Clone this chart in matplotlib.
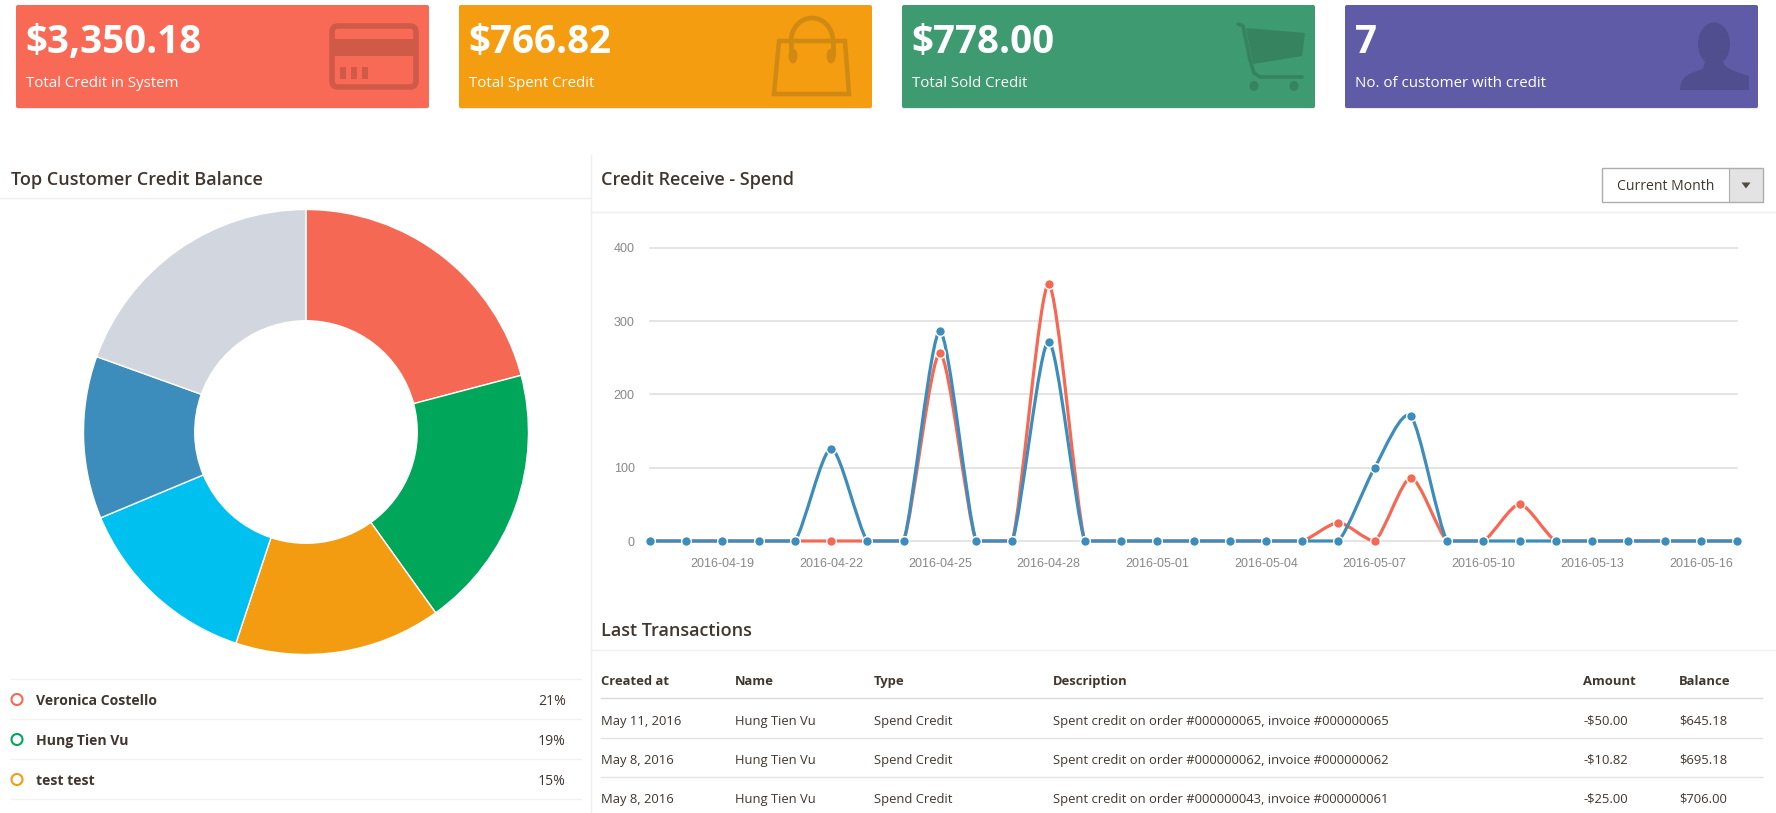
#!/usr/bin/env python3
"""Credit dashboard: summary cards, customer donut, receive/spend line chart, transactions"""

import matplotlib
matplotlib.use('Agg')
import matplotlib.pyplot as plt
from matplotlib.patches import FancyBboxPatch, Rectangle, Circle, Ellipse, PathPatch, Polygon, Arc
from matplotlib.path import Path

# Cards
card_values = ['$3,350.18', '$766.82', '$778.00', '7']
card_labels = ['Total Credit in System', 'Total Spent Credit', 'Total Sold Credit',
               'No. of customer with credit']
card_colors = ['#F96A56', '#F49D10', '#3E9A70', '#5F5BA6']
icon_colors = ['#D05A48', '#D08A14', '#36835F', '#514E8F']

# Donut
share_values = [20.9, 19.2, 15.0, 13.6, 11.8, 19.5]
share_colors = ['#F56954', '#00A65A', '#F39C12', '#00C0EF', '#3C8DBC', '#D2D6DE']
legend_names = ['Veronica Costello', 'Hung Tien Vu', 'test test']
legend_pcts = ['21%', '19%', '15%']

# Line chart, one value per day from 2016-04-17 to 2016-05-17
days = ['2016-04-17', '2016-04-18', '2016-04-19', '2016-04-20', '2016-04-21', '2016-04-22',
        '2016-04-23', '2016-04-24', '2016-04-25', '2016-04-26', '2016-04-27', '2016-04-28',
        '2016-04-29', '2016-04-30', '2016-05-01', '2016-05-02', '2016-05-03', '2016-05-04',
        '2016-05-05', '2016-05-06', '2016-05-07', '2016-05-08', '2016-05-09', '2016-05-10',
        '2016-05-11', '2016-05-12', '2016-05-13', '2016-05-14', '2016-05-15', '2016-05-16',
        '2016-05-17']
red_values = [0, 0, 0, 0, 0, 0, 0, 0, 256, 0, 0, 350, 0, 0, 0, 0, 0, 0,
              0, 25, 0, 86, 0, 0, 50, 0, 0, 0, 0, 0, 0]
blue_values = [0, 0, 0, 0, 0, 126, 0, 0, 286, 0, 0, 272, 0, 0, 0, 0, 0, 0,
               0, 0, 100, 170, 0, 0, 0, 0, 0, 0, 0, 0, 0]
y_ticks = [0, 100, 200, 300, 400]

# Table
table_headers = ['Created at', 'Name', 'Type', 'Description', 'Amount', 'Balance']
table_rows = [
    ['May 11, 2016', 'Hung Tien Vu', 'Spend Credit',
     'Spent credit on order #000000065, invoice #000000065', '-$50.00', '$645.18'],
    ['May 8, 2016', 'Hung Tien Vu', 'Spend Credit',
     'Spent credit on order #000000062, invoice #000000062', '-$10.82', '$695.18'],
    ['May 8, 2016', 'Hung Tien Vu', 'Spend Credit',
     'Spent credit on order #000000043, invoice #000000061', '-$25.00', '$706.00'],
]

W, H = 1776, 813
TEXT = '#41362F'
plt.rcParams['font.family'] = ['Open Sans', 'DejaVu Sans']


def px(size):
    """Font size in css pixels -> points at dpi 100"""
    return size * 72 / 100


def smooth_path(xs, ys):
    """Same kind of curve as morris.js: gradient from neighbours, control points at dx/4"""
    n = len(xs)
    grads = []
    for i in range(n):
        a = max(i - 1, 0)
        b = min(i + 1, n - 1)
        grads.append((ys[b] - ys[a]) / (xs[b] - xs[a]))
    verts = [(xs[0], ys[0])]
    codes = [Path.MOVETO]
    for i in range(1, n):
        ix = (xs[i] - xs[i - 1]) / 4
        y1 = max(0, ys[i - 1] + ix * grads[i - 1])
        y2 = max(0, ys[i] - ix * grads[i])
        verts += [(xs[i - 1] + ix, y1), (xs[i] - ix, y2), (xs[i], ys[i])]
        codes += [Path.CURVE4, Path.CURVE4, Path.CURVE4]
    return Path(verts, codes)


def draw_icons(ax):
    # credit card
    c = icon_colors[0]
    ax.add_patch(FancyBboxPatch((332, 26), 84, 61, boxstyle='round,pad=0,rounding_size=6',
                                fc='none', ec=c, lw=4))
    ax.add_patch(Rectangle((331, 39), 87, 17, fc=c, ec='none'))
    for x in (340, 351, 362):
        ax.add_patch(Rectangle((x, 67), 6, 12, fc=c, ec='none'))

    # bag
    c = icon_colors[1]
    ax.add_patch(Polygon([(779, 41), (845, 41), (849, 94), (774, 94)], closed=True,
                         fc='none', ec=c, lw=3.2))
    ax.add_patch(Arc((812, 41), 42, 46, theta1=180, theta2=360, ec=c, lw=3.4))
    ax.plot([791, 791], [41, 54], color=c, lw=3.4)
    ax.plot([833, 833], [41, 54], color=c, lw=3.4)
    ax.add_patch(Ellipse((793, 56), 9, 15, fc=c, ec='none'))
    ax.add_patch(Ellipse((831, 56), 9, 15, fc=c, ec='none'))

    # cart
    c = icon_colors[2]
    ax.add_patch(Polygon([(1246, 28), (1305, 33), (1302, 56), (1253, 64)], closed=True,
                         fc=c, ec='none'))
    ax.plot([1238, 1243, 1250, 1254, 1260, 1302], [24, 26, 60, 73, 77, 77],
            color=c, lw=2.6, solid_capstyle='round')
    ax.add_patch(Ellipse((1254, 86), 9, 10, fc=c, ec='none'))
    ax.add_patch(Ellipse((1294, 86), 9, 10, fc=c, ec='none'))

    # person
    c = icon_colors[3]
    body = Path([(1680, 90), (1680, 76), (1690, 73), (1703, 69), (1705, 62), (1705, 50),
                 (1723, 50), (1723, 62), (1725, 69), (1739, 73), (1749, 76), (1749, 90),
                 (1680, 90)],
                [Path.MOVETO, Path.CURVE4, Path.CURVE4, Path.CURVE4, Path.LINETO, Path.LINETO,
                 Path.LINETO, Path.LINETO, Path.CURVE4, Path.CURVE4, Path.CURVE4, Path.LINETO,
                 Path.CLOSEPOLY])
    ax.add_patch(PathPatch(body, fc=c, ec='none'))
    ax.add_patch(Ellipse((1714, 44), 32, 43, fc=c, ec='none'))


fig = plt.figure(figsize=(W / 100, H / 100), dpi=100, facecolor='white')
bg = fig.add_axes([0, 0, 1, 1])
bg.set_xlim(0, W)
bg.set_ylim(H, 0)
bg.axis('off')

# cards
card_left = [16, 459, 902, 1345]
for i in range(4):
    x = card_left[i]
    w = 413
    bg.add_patch(Rectangle((x, 106), w, 3, fc='#ECECEC', ec='none'))
    bg.add_patch(FancyBboxPatch((x, 5), w, 103, boxstyle='round,pad=0,rounding_size=2',
                                fc=card_colors[i], ec='none'))
    bg.text(x + 9.5, 42.5, card_values[i], color='white', fontsize=px(38.5), fontweight='bold',
            ha='left', va='center')
    bg.text(x + 10, 83.5, card_labels[i], color='white', fontsize=px(15), ha='left', va='center')
draw_icons(bg)

# panel dividers
line = '#EFEFEF'
bg.plot([591, 591], [155, H], color=line, lw=1)
bg.plot([0, 591], [198, 198], color=line, lw=1)
bg.plot([591, W], [212, 212], color=line, lw=1)
bg.plot([591, W], [650, 650], color=line, lw=1)

title_style = dict(color=TEXT, fontsize=px(18), fontweight='semibold', ha='left', va='center')
bg.text(11, 180, 'Top Customer Credit Balance', **title_style)
bg.text(601, 180, 'Credit Receive - Spend', **title_style)
bg.text(601, 631, 'Last Transactions', **title_style)

# dropdown
bg.add_patch(Rectangle((1729, 168), 34, 34, fc='#E3E3E3', ec='none'))
bg.add_patch(Rectangle((1602, 168), 161, 34, fc='none', ec='#ADADAD', lw=1))
bg.plot([1729, 1729], [168, 202], color='#ADADAD', lw=0.8)
bg.text(1666, 187, 'Current Month', color=TEXT, fontsize=px(14), ha='center', va='center')
bg.add_patch(Polygon([(1741.5, 182.5), (1750.5, 182.5), (1746, 188.5)], closed=True,
                     fc='#514943', ec='none'))

# donut legend
legend_lines = [679, 719, 759, 799]
for y in legend_lines:
    bg.plot([11, 581], [y, y], color='#F2F2F2', lw=1)
for i, name in enumerate(legend_names):
    y = 699 + i * 40
    bg.add_patch(Circle((17, y + 0.5), 5.5, fc='none', ec=share_colors[i], lw=1.5))
    bg.text(36, y + 2, name, color=TEXT, fontsize=px(14), fontweight='bold', ha='left', va='center')
    bg.text(566, y + 2, legend_pcts[i], color=TEXT, fontsize=px(14), ha='right', va='center')

# table
col_x = [601, 734.5, 874, 1053, 1583, 1679]
for x, head in zip(col_x, table_headers):
    bg.text(x, 681.5, head, color=TEXT, fontsize=px(13), fontweight='bold', ha='left', va='center')
bg.plot([601, 1762], [698, 698], color='#DADADA', lw=1)
for r, row in enumerate(table_rows):
    y = 719 + r * 39
    for x, cell in zip(col_x, row):
        bg.text(x, y + 2, cell, color=TEXT, fontsize=px(13), ha='left', va='center')
    if r < 2:
        bg.plot([601, 1762], [y + 18.5, y + 18.5], color='#E3E3E3', lw=1)

# donut
R = 222.5
ax_pie = fig.add_axes([(306 - R) / W, (H - 432 - R) / H, 2 * R / W, 2 * R / H])
ax_pie.pie(share_values, colors=share_colors, startangle=90, counterclock=False, radius=1,
           wedgeprops=dict(width=0.5, edgecolor='white', linewidth=1))
ax_pie.set_xlim(-1, 1)
ax_pie.set_ylim(-1, 1)

# line chart
ax = fig.add_axes([650 / W, (H - 541) / H, 1087 / W, 293.3 / H])
ax.patch.set_alpha(0)
xs = list(range(len(days)))
ax.set_xlim(0, len(days) - 1)
ax.set_ylim(0, 400)
for s in ax.spines.values():
    s.set_visible(False)
ax.set_yticks(y_ticks)
ax.set_xticks(xs[2::3])
ax.set_xticklabels(days[2::3])
ax.tick_params(length=0, labelcolor='#888888', labelfontfamily='Liberation Sans', labelsize=9)
ax.tick_params(axis='x', pad=12)
ax.tick_params(axis='y', pad=11)
ax.grid(axis='y', color='#DDDDDD', lw=1.1, clip_on=False)
ax.set_axisbelow(True)
for gl in ax.get_ygridlines():
    gl.set_clip_on(False)

for vals, col, z in ((red_values, '#F56954', 3), (blue_values, '#3C8DBC', 4)):
    ax.add_patch(PathPatch(smooth_path(xs, vals), fc='none', ec=col, lw=2.3, zorder=z,
                           clip_on=False, capstyle='butt'))
for vals, col, z in ((red_values, '#F56954', 5), (blue_values, '#3C8DBC', 6)):
    ax.plot(xs, vals, ls='none', marker='o', ms=7, mfc=col, mec='white', mew=1.0,
            zorder=z, clip_on=False)

fig.savefig('out.png', dpi=100)
